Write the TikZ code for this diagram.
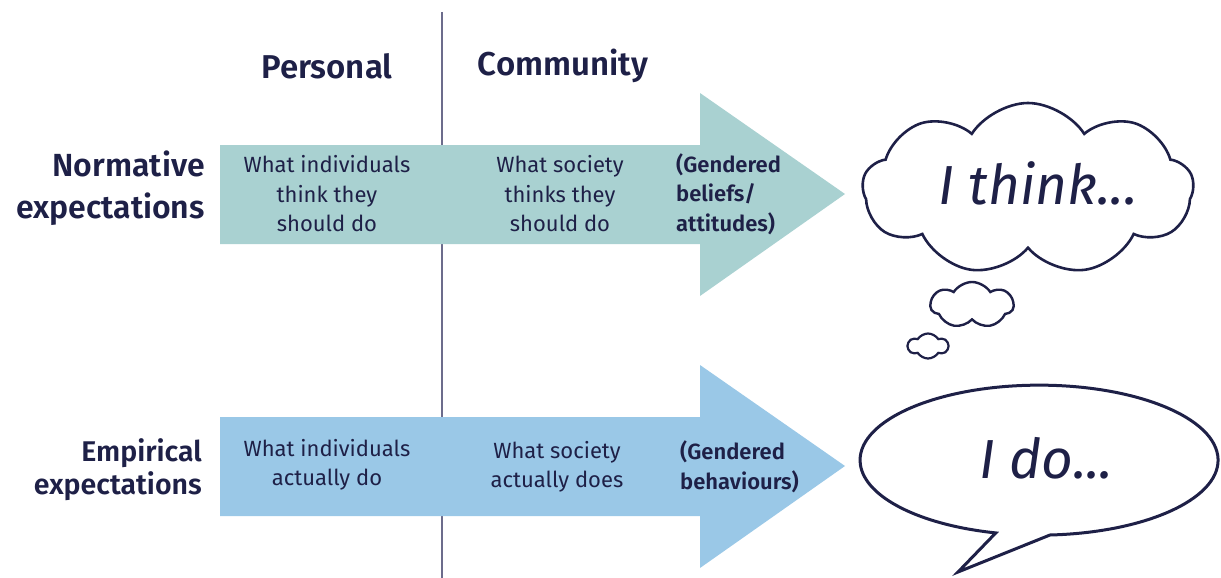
\documentclass[tikz,border=0pt]{standalone}
\usepackage{fontspec}
\setmainfont{Fira Sans}[BoldFont={* SemiBold}]
\usetikzlibrary{shapes.symbols}
\definecolor{ink}{HTML}{1E2047}
\definecolor{normteal}{HTML}{A9D1D1}
\definecolor{empblue}{HTML}{9AC8E7}
\definecolor{divider}{HTML}{6C6C8C}

\begin{document}
\begin{tikzpicture}[x=1pt,y=1pt,
    every node/.style={inner sep=0pt, text=ink},
    colhead/.style={font=\fontsize{33}{36}\selectfont\bfseries},
    rowhead/.style={font=\fontsize{32}{42}\selectfont\bfseries, align=right, anchor=east},
    celltext/.style={font=\fontsize{22}{29.5}\selectfont, align=center},
    tagtext/.style={font=\fontsize{22}{29.5}\selectfont\bfseries, align=left, anchor=west},
    bubbletext/.style={font=\fontsize{55}{60}\selectfont\itshape},
    bubble/.style={draw=ink, line width=3pt, fill=white},
    puff/.style={cloud, cloud puffs=#1, cloud puff arc=115, draw=ink, fill=white, line width=2.6pt}]
  \useasboundingbox (0,0) rectangle (1221,-578);

  % column divider, runs under both arrows
  \draw [divider, line width=1.4pt] (442,-12) -- (442,-578);

  % the two block arrows
  \fill [normteal] (220,-145) -- (700,-145) -- (700,-93) -- (845,-194)
    -- (700,-296) -- (700,-244) -- (220,-244) -- cycle;
  \fill [empblue] (220,-417) -- (700,-417) -- (700,-365) -- (845,-466)
    -- (700,-568) -- (700,-516) -- (220,-516) -- cycle;

  % column and row headings
  \node [colhead] (personal) at (327,-66) {Personal};
  \node [colhead] (community) at (563,-66) {Community};
  \node [rowhead] (normative) at (205,-188) {Normative\\expectations};
  \node [rowhead, font=\fontsize{28.5}{33}\selectfont\bfseries] (empirical) at (202,-470) {Empirical\\expectations};

  % normative row
  \node [celltext] (indthink) at (327,-194) {What individuals\\think they\\should do};
  \node [celltext] (socthink) at (560,-194) {What society\\thinks they\\should do};
  \node [tagtext] (beliefs) at (676,-194) {(Gendered\\beliefs/\\attitudes)};

  % empirical row
  \node [celltext] (inddo) at (327,-465) {What individuals\\actually do};
  \node [celltext] (socdo) at (557,-467) {What society\\actually does};
  \node [tagtext] (behaviours) at (680,-467) {(Gendered\\behaviours)};

  % thought cloud
  \node [puff=9, minimum width=331, minimum height=172] (cloudbig) at (1028,-189) {};
  \node [puff=7, minimum width=83, minimum height=46, line width=2.4pt] (cloudmid) at (972,-305) {};
  \node [puff=6, minimum width=40, minimum height=25, line width=2.2pt] (cloudsmall) at (928,-346) {};
  \node [bubbletext] (think) at (1038,-183) {I think...};

  % speech bubble
  \draw [bubble] (1050,-535) arc [start angle=273.5, end angle=616, x radius=179, y radius=75]
    -- (958,-572) -- cycle;
  \node [bubbletext] (ido) at (1046,-458) {I do...};
\end{tikzpicture}
\end{document}
